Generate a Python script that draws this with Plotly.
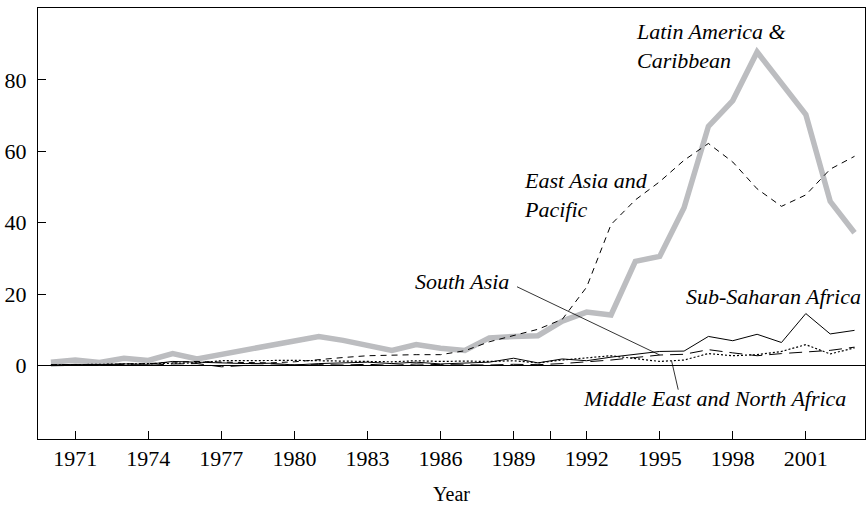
import plotly.graph_objects as go

years = list(range(1970, 2004))
latin_america = [1.0, 1.6, 0.9, 2.1, 1.5, 3.4, 1.9, 3.2, 4.4, 5.6,
                 6.8, 8.2, 7.1, 5.8, 4.3, 5.9, 4.9, 4.3, 7.8, 8.2,
                 8.4, 12.5, 15.0, 14.2, 29.2, 30.6, 44.2, 67.0, 74.2, 87.8,
                 79.0, 70.3, 46.0, 37.2]
east_asia = [0.3, 0.2, 0.3, 0.5, 0.6, 1.0, 1.2, 1.0, 1.0, 0.8,
             1.1, 1.8, 2.3, 2.8, 3.0, 3.1, 3.1, 4.2, 6.7, 8.5,
             10.2, 13.0, 22.0, 39.5, 46.4, 51.5, 57.5, 62.2, 57.0, 49.5,
             44.6, 47.8, 55.0, 58.6]
south_asia = [0.0, 0.1, 0.2, 0.3, 0.1, 0.5, 0.6, -0.3, 0.1, 0.2,
              0.1, 0.3, 0.2, 0.4, 0.1, 0.5, 0.3, 0.2, 0.2, 0.4,
              0.3, 0.6, 1.0, 1.6, 2.3, 3.0, 3.2, 4.5, 3.6, 2.8,
              3.4, 3.9, 4.3, 5.2]
middle_east = [0.2, 0.3, 0.3, 0.4, 0.5, 0.6, 0.8, 1.4, 1.5, 1.6,
               1.5, 1.4, 1.3, 1.3, 1.1, 1.4, 1.2, 1.3, 1.2, 1.4,
               0.8, 1.6, 2.2, 2.8, 2.0, 1.2, 1.6, 3.4, 2.8, 3.1,
               4.0, 5.9, 3.3, 5.0]
sub_saharan = [0.2, 0.4, 0.3, 0.5, 0.4, 1.2, 1.0, 0.8, 0.6, 0.7,
               0.2, 0.6, 0.8, 1.0, 0.6, 1.0, 0.5, 0.8, 1.0, 2.1,
               0.8, 1.9, 1.4, 2.4, 3.2, 4.0, 4.1, 8.2, 7.0, 8.8,
               6.5, 14.6, 8.9, 9.9]

x_tickvals = [1971, 1974, 1977, 1980, 1983, 1986, 1989, 1990.5, 1992, 1995, 1998, 2001]
x_ticktext = ["1971", "1974", "1977", "1980", "1983", "1986", "1989", "", "1992", "1995", "1998", "2001"]
y_tickvals = [0, 20, 40, 60, 80]

FONT = "Liberation Serif"

fig = go.Figure()
fig.add_trace(go.Scatter(x=years, y=latin_america, mode="lines",
                         line=dict(color="#bcbdc0", width=5.5), name="Latin America & Caribbean"))
fig.add_trace(go.Scatter(x=years, y=middle_east, mode="lines",
                         line=dict(color="black", width=1.2, dash="2px,2px"), name="Middle East and North Africa"))
fig.add_trace(go.Scatter(x=years, y=south_asia, mode="lines",
                         line=dict(color="black", width=1, dash="13px,7px"), name="South Asia"))
fig.add_trace(go.Scatter(x=years, y=east_asia, mode="lines",
                         line=dict(color="black", width=1, dash="6px,5px"), name="East Asia and Pacific"))
fig.add_trace(go.Scatter(x=years, y=sub_saharan, mode="lines",
                         line=dict(color="black", width=1), name="Sub-Saharan Africa"))

afont = dict(family=FONT, size=22, color="black")
ann = [
    dict(x=1993.93, y=93.3, text="<i>Latin America &amp;<br>Caribbean</i>", xanchor="left", yanchor="top",
         align="left", yshift=15),
    dict(x=1989.34, y=51.8, text="<i>East Asia and<br>Pacific</i>", xanchor="left", yanchor="top",
         align="left", yshift=15),
    dict(x=1988.9, y=23.5, text="<i>South Asia</i>", xanchor="right", yanchor="middle"),
    dict(x=2003.35, y=19.3, text="<i>Sub-Saharan Africa</i>", xanchor="right", yanchor="middle"),
    dict(x=2002.73, y=-9.2, text="<i>Middle East and North Africa</i>", xanchor="right", yanchor="middle"),
]
for a in ann:
    fig.add_annotation(xref="x", yref="y", showarrow=False, font=afont, **a)

# pointer lines
sa_i = years.index(1995)
fig.add_shape(type="line", xref="x", yref="y", x0=1989.14, y0=22.1, x1=1995, y1=south_asia[sa_i],
              line=dict(color="black", width=0.8))
fig.add_shape(type="line", xref="x", yref="y", x0=1995.49, y0=1.3, x1=1995.76, y1=-6.7,
              line=dict(color="black", width=0.8))

axis_common = dict(showgrid=False, showline=True, linecolor="black", linewidth=1, mirror=True,
                   ticks="inside", tickcolor="black", tickwidth=1, automargin=False,
                   tickfont=dict(family=FONT, size=22, color="black"))
fig.update_xaxes(range=[1969.47, 2003.43], tickvals=x_tickvals, ticktext=x_ticktext, ticklen=8,
                 zeroline=False,
                 title=dict(text="Year", font=dict(family=FONT, size=20, color="black"), standoff=16),
                 **axis_common)
fig.update_yaxes(range=[-20.5, 100.1], tickvals=y_tickvals, ticklen=8, ticklabelstandoff=6,
                 zeroline=True, zerolinecolor="black", zerolinewidth=1,
                 **axis_common)
fig.update_layout(width=868, height=505, margin=dict(l=38, r=3, t=8, b=66),
                  plot_bgcolor="white", paper_bgcolor="white", showlegend=False)
fig.write_html("out.html", config={"displayModeBar": False},
               post_script="document.body.style.margin='0';")
